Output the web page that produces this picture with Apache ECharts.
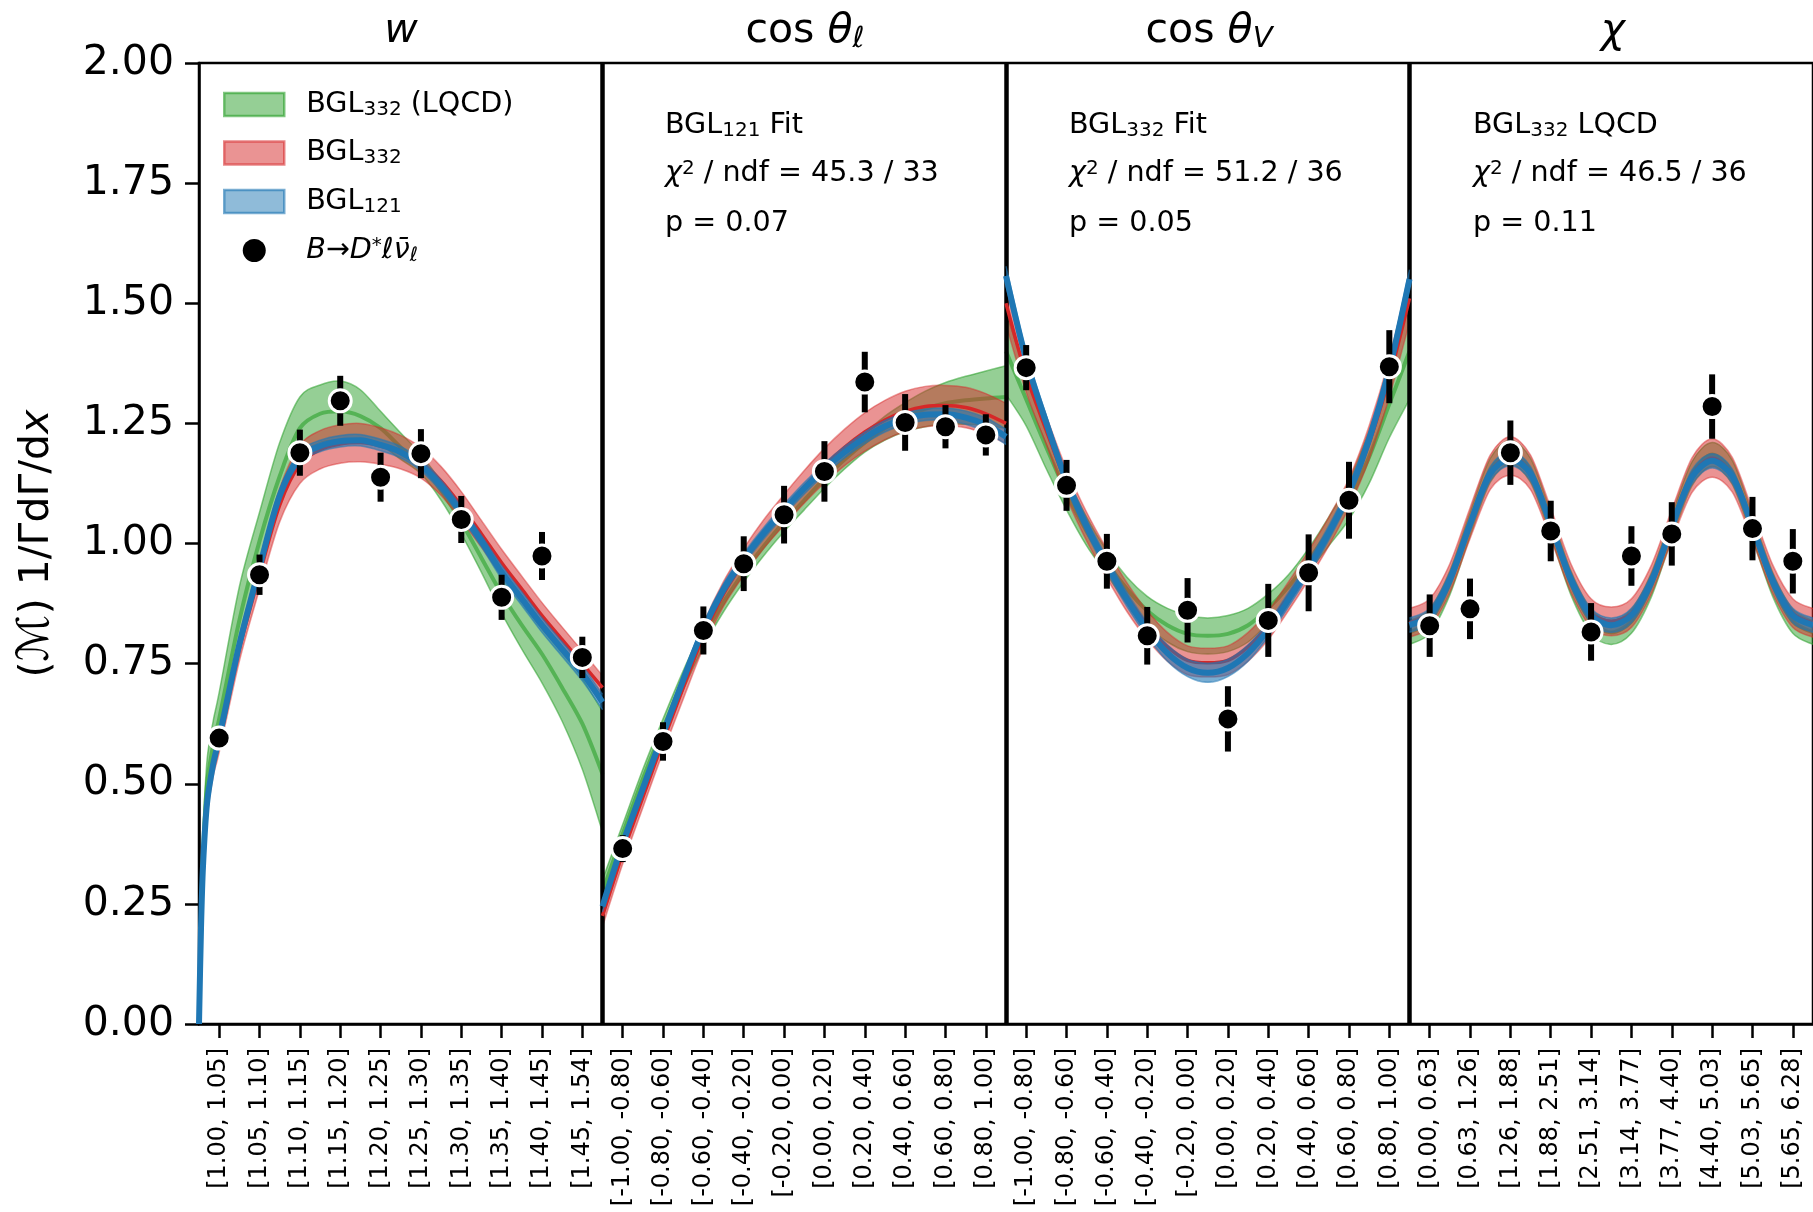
<!DOCTYPE html>
<html>
<head>
<meta charset="utf-8">
<script src="https://cdn.jsdelivr.net/npm/echarts@6/dist/echarts.min.js"></script>
<style>
html,body{margin:0;padding:0;background:#fff;}
#main{width:1813px;height:1212px;}
</style>
</head>
<body>
<div id="main"></div>
<script>
// ---------------- tick labels (bins) ----------------
const wBins   = ['[1.00, 1.05]','[1.05, 1.10]','[1.10, 1.15]','[1.15, 1.20]','[1.20, 1.25]','[1.25, 1.30]','[1.30, 1.35]','[1.35, 1.40]','[1.40, 1.45]','[1.45, 1.54]'];
const clBins  = ['[-1.00, -0.80]','[-0.80, -0.60]','[-0.60, -0.40]','[-0.40, -0.20]','[-0.20, 0.00]','[0.00, 0.20]','[0.20, 0.40]','[0.40, 0.60]','[0.60, 0.80]','[0.80, 1.00]'];
const cvBins  = ['[-1.00, -0.80]','[-0.80, -0.60]','[-0.60, -0.40]','[-0.40, -0.20]','[-0.20, 0.00]','[0.00, 0.20]','[0.20, 0.40]','[0.40, 0.60]','[0.60, 0.80]','[0.80, 1.00]'];
const chiBins = ['[0.00, 0.63]','[0.63, 1.26]','[1.26, 1.88]','[1.88, 2.51]','[2.51, 3.14]','[3.14, 3.77]','[3.77, 4.40]','[4.40, 5.03]','[5.03, 5.65]','[5.65, 6.28]'];

// ---------------- measured data points ----------------
const wData   = [0.595, 0.935, 1.189, 1.297, 1.138, 1.187, 1.050, 0.888, 0.974, 0.763];
const wErr    = [0.020, 0.042, 0.048, 0.052, 0.051, 0.051, 0.049, 0.047, 0.050, 0.043];
const clData  = [0.365, 0.588, 0.819, 0.958, 1.060, 1.150, 1.336, 1.252, 1.243, 1.226];
const clErr   = [0.028, 0.040, 0.050, 0.057, 0.060, 0.063, 0.063, 0.059, 0.045, 0.043];
const cvData  = [1.366, 1.121, 0.963, 0.808, 0.861, 0.635, 0.840, 0.939, 1.090, 1.368];
const cvErr   = [0.047, 0.053, 0.057, 0.060, 0.067, 0.068, 0.076, 0.080, 0.080, 0.076];
const chiData = [0.829, 0.864, 1.189, 1.026, 0.816, 0.974, 1.020, 1.285, 1.031, 0.963];
const chiErr  = [0.065, 0.063, 0.067, 0.063, 0.060, 0.062, 0.066, 0.067, 0.066, 0.067];

// ---------------- fit curves (positions in bin units within a panel) ----------------
const xW   = [-0.5,-0.45,-0.4,-0.3,-0.15,0,0.5,1,1.5,2,2.5,3,3.5,4,4.5,5,5.5,6,6.5,7,7.5,8,8.5,9,9.5];
const xStd = [-0.5,0,0.5,1,1.5,2,2.5,3,3.5,4,4.5,5,5.5,6,6.5,7,7.5,8,8.5,9,9.5];

const wBlue     = [0,0.20,0.33,0.46,0.54,0.595,0.79,0.95,1.10,1.18,1.203,1.213,1.215,1.205,1.19,1.163,1.12,1.065,1.005,0.94,0.885,0.83,0.78,0.73,0.67];
const wBlueErr  = [0,0.008,0.01,0.012,0.012,0.012,0.012,0.012,0.012,0.012,0.012,0.012,0.012,0.012,0.012,0.012,0.012,0.012,0.012,0.014,0.014,0.015,0.015,0.016,0.016];
const wRed      = [0,0.19,0.31,0.45,0.535,0.585,0.78,0.935,1.08,1.165,1.195,1.207,1.21,1.203,1.19,1.168,1.13,1.078,1.02,0.96,0.905,0.85,0.80,0.75,0.70];
const wRedErr   = [0,0.01,0.015,0.02,0.02,0.02,0.025,0.03,0.035,0.04,0.04,0.04,0.04,0.038,0.035,0.032,0.03,0.03,0.028,0.028,0.027,0.027,0.026,0.026,0.025];
const wGreen    = [0,0.22,0.36,0.50,0.58,0.635,0.84,1.005,1.14,1.24,1.27,1.275,1.265,1.24,1.20,1.165,1.11,1.045,0.97,0.895,0.83,0.77,0.70,0.625,0.52];
const wGreenLo  = [0,0.19,0.32,0.46,0.54,0.59,0.78,0.945,1.08,1.18,1.21,1.215,1.215,1.205,1.175,1.145,1.09,1.02,0.94,0.855,0.78,0.71,0.63,0.53,0.40];
const wGreenHi  = [0,0.26,0.40,0.55,0.63,0.69,0.91,1.065,1.21,1.305,1.33,1.338,1.32,1.275,1.23,1.185,1.13,1.07,1.00,0.94,0.885,0.835,0.78,0.72,0.65];

const clBlue    = [0.245,0.375,0.49,0.604,0.716,0.822,0.905,0.968,1.022,1.07,1.115,1.155,1.19,1.22,1.244,1.26,1.268,1.269,1.262,1.247,1.222];
const clBlueErr = [0.012,0.012,0.012,0.012,0.012,0.012,0.012,0.012,0.012,0.012,0.012,0.012,0.012,0.012,0.012,0.012,0.012,0.013,0.014,0.015,0.016];
const clRed     = [0.225,0.355,0.472,0.588,0.70,0.808,0.895,0.962,1.02,1.07,1.118,1.162,1.2,1.232,1.257,1.275,1.285,1.287,1.283,1.27,1.25];
const clRedErr  = [0.022,0.022,0.022,0.022,0.024,0.025,0.026,0.028,0.03,0.032,0.034,0.036,0.038,0.04,0.041,0.042,0.042,0.042,0.042,0.042,0.042];
const clGreen   = [0.275,0.395,0.51,0.615,0.715,0.805,0.878,0.94,0.995,1.045,1.09,1.135,1.175,1.21,1.24,1.263,1.28,1.292,1.298,1.302,1.305];
const clGreenLo = [0.25,0.375,0.49,0.595,0.695,0.785,0.858,0.92,0.975,1.025,1.07,1.115,1.155,1.19,1.215,1.233,1.243,1.249,1.248,1.245,1.24];
const clGreenHi = [0.30,0.415,0.53,0.635,0.735,0.825,0.898,0.96,1.015,1.065,1.11,1.155,1.195,1.23,1.265,1.293,1.317,1.335,1.348,1.359,1.37];

const cvBlue    = [1.557,1.383,1.251,1.13,1.036,0.956,0.883,0.821,0.772,0.741,0.731,0.741,0.772,0.821,0.883,0.949,1.022,1.106,1.217,1.3625,1.55];
const cvBlueErr = [0.02,0.015,0.015,0.015,0.015,0.015,0.015,0.015,0.017,0.018,0.02,0.018,0.017,0.015,0.015,0.015,0.015,0.015,0.015,0.015,0.02];
const cvRed     = [1.50,1.35,1.235,1.125,1.035,0.958,0.888,0.83,0.785,0.757,0.752,0.757,0.785,0.83,0.89,0.955,1.025,1.105,1.21,1.345,1.51];
const cvRedErr  = [0.045,0.035,0.03,0.03,0.03,0.03,0.03,0.03,0.03,0.03,0.03,0.03,0.03,0.03,0.03,0.03,0.03,0.03,0.035,0.04,0.05];
const cvGreen   = [1.40,1.30,1.20,1.105,1.025,0.96,0.905,0.86,0.83,0.812,0.808,0.812,0.83,0.865,0.91,0.965,1.025,1.09,1.18,1.29,1.40];
const cvGreenLo = [1.31,1.245,1.155,1.07,0.995,0.935,0.875,0.83,0.795,0.775,0.77,0.775,0.795,0.835,0.885,0.94,0.995,1.05,1.125,1.22,1.30];
const cvGreenHi = [1.48,1.355,1.245,1.14,1.055,0.985,0.93,0.89,0.865,0.85,0.845,0.85,0.865,0.895,0.935,0.99,1.055,1.13,1.235,1.36,1.50];

const chiBlue    = [0.830,0.850,0.925,1.04,1.145,1.177,1.145,1.04,0.925,0.85,0.83,0.85,0.922,1.035,1.138,1.172,1.14,1.035,0.922,0.85,0.83];
const chiBlueErr = [0.015,0.015,0.015,0.015,0.015,0.015,0.015,0.015,0.015,0.015,0.015,0.015,0.015,0.015,0.015,0.015,0.015,0.015,0.015,0.015,0.015];
const chiRed     = [0.835,0.855,0.928,1.042,1.148,1.182,1.148,1.042,0.928,0.855,0.838,0.855,0.926,1.038,1.142,1.178,1.143,1.038,0.926,0.855,0.835];
const chiRedErr  = [0.03,0.03,0.03,0.032,0.036,0.04,0.036,0.032,0.03,0.03,0.03,0.03,0.03,0.032,0.036,0.04,0.036,0.032,0.03,0.03,0.03];
const chiGreen   = [0.815,0.838,0.918,1.04,1.152,1.19,1.152,1.04,0.918,0.838,0.815,0.838,0.915,1.035,1.145,1.185,1.148,1.035,0.915,0.838,0.815];
const chiGreenLo = [0.79,0.813,0.893,1.015,1.127,1.165,1.127,1.015,0.893,0.813,0.79,0.813,0.89,1.01,1.12,1.16,1.123,1.01,0.89,0.813,0.79];
const chiGreenHi = [0.84,0.863,0.943,1.065,1.177,1.215,1.177,1.065,0.943,0.863,0.84,0.863,0.94,1.06,1.17,1.21,1.173,1.06,0.94,0.863,0.84];

// ---------------- texts ----------------
const panelTitles = ['{i|w}', '{n|cos }{i|θ}{s|ℓ}', '{n|cos }{i|θ}{s|V}', '{i|χ}'];
const fitModel  = ['121', '332', '332'];
const fitSuffix = [' Fit', ' Fit', ' LQCD'];
const fitChi2   = ['45.3', '51.2', '46.5'];
const fitNdf    = ['33', '36', '36'];
const fitP      = ['0.07', '0.05', '0.11'];
const yTitle = '{n|(}{m|ℳ}{n|) 1/ΓdΓ/d}{i|x}';
const dividers = [9.5, 19.5, 29.5];

// ---------------- styling ----------------
const FONT = 'DejaVu Sans';
const GREEN_FILL = 'rgba(44,160,44,0.5)', GREEN_EDGE = 'rgba(44,160,44,0.55)', GREEN_LINE = 'rgba(44,160,44,0.6)';
const RED_FILL = 'rgba(214,39,40,0.5)', RED_EDGE = 'rgba(214,39,40,0.45)', RED_LINE = '#d62728';
const BLUE_FILL = 'rgba(31,119,180,0.6)', BLUE_EDGE = 'rgba(31,119,180,0.55)', BLUE_LINE = '#1f77b4';
const SM = 0.3;      // ECharts line smoothing
const TENSION = 0.15; // matching bezier tension for the band outlines

const panels = [
  {off: 0,  x: xW,   b: wBlue,   be: wBlueErr,   r: wRed,   re: wRedErr,   g: wGreen,   gl: wGreenLo,   gh: wGreenHi,   d: wData,   de: wErr},
  {off: 10, x: xStd, b: clBlue,  be: clBlueErr,  r: clRed,  re: clRedErr,  g: clGreen,  gl: clGreenLo,  gh: clGreenHi,  d: clData,  de: clErr},
  {off: 20, x: xStd, b: cvBlue,  be: cvBlueErr,  r: cvRed,  re: cvRedErr,  g: cvGreen,  gl: cvGreenLo,  gh: cvGreenHi,  d: cvData,  de: cvErr},
  {off: 30, x: xStd, b: chiBlue, be: chiBlueErr, r: chiRed, re: chiRedErr, g: chiGreen, gl: chiGreenLo, gh: chiGreenHi, d: chiData, de: chiErr}
];

// smooth bezier segments through pixel points (rendering only)
function bezierSegs(pts) {
  let d = '';
  for (let i = 0; i < pts.length - 1; i++) {
    const p0 = pts[Math.max(i - 1, 0)], p1 = pts[i], p2 = pts[i + 1], p3 = pts[Math.min(i + 2, pts.length - 1)];
    const c1x = p1[0] + (p2[0] - p0[0]) * TENSION, c1y = p1[1] + (p2[1] - p0[1]) * TENSION;
    const c2x = p2[0] - (p3[0] - p1[0]) * TENSION, c2y = p2[1] - (p3[1] - p1[1]) * TENSION;
    d += ' C' + c1x.toFixed(2) + ',' + c1y.toFixed(2) + ' ' + c2x.toFixed(2) + ',' + c2y.toFixed(2) + ' ' + p2[0].toFixed(2) + ',' + p2[1].toFixed(2);
  }
  return d;
}

function bandSeries(xs, off, lo, hi, fill, edge, z) {
  const rows = xs.map((t, i) => [t + off, lo[i], hi[i]]);
  return {
    type: 'custom', xAxisIndex: 1, yAxisIndex: 0, z: z, silent: true,
    encode: {x: 0, y: [1, 2]},
    data: rows,
    renderItem: function (params, api) {
      if (params.dataIndex !== 0) return null;
      const up = rows.map(r => api.coord([r[0], r[2]]));
      const dn = rows.map(r => api.coord([r[0], r[1]]));
      const dnRev = dn.slice().reverse();
      const upPath = 'M' + up[0][0] + ',' + up[0][1] + bezierSegs(up);
      const dnPath = 'M' + dn[0][0] + ',' + dn[0][1] + bezierSegs(dn);
      const area = upPath + ' L' + dnRev[0][0] + ',' + dnRev[0][1] + bezierSegs(dnRev) + ' Z';
      return {type: 'group', children: [
        {type: 'path', shape: {pathData: area}, style: {fill: fill, stroke: null}},
        {type: 'path', shape: {pathData: upPath}, style: {fill: null, stroke: edge, lineWidth: 1.5}},
        {type: 'path', shape: {pathData: dnPath}, style: {fill: null, stroke: edge, lineWidth: 1.5}}
      ]};
    }
  };
}
function lineSeries(xs, off, c, color, width, z) {
  return {type: 'line', xAxisIndex: 1, yAxisIndex: 0, data: xs.map((t, i) => [t + off, c[i]]),
    symbol: 'none', smooth: SM, silent: true, z: z, lineStyle: {color: color, width: width}};
}

const series = [];
panels.forEach(p => {
  series.push(bandSeries(p.x, p.off, p.gl, p.gh, GREEN_FILL, GREEN_EDGE, 2));
  series.push(lineSeries(p.x, p.off, p.g, GREEN_LINE, 4, 3));
  series.push(bandSeries(p.x, p.off, p.r.map((v, i) => v - p.re[i]), p.r.map((v, i) => v + p.re[i]), RED_FILL, RED_EDGE, 4));
  series.push(lineSeries(p.x, p.off, p.r, RED_LINE, 3.5, 5));
  series.push(bandSeries(p.x, p.off, p.b.map((v, i) => v - p.be[i]), p.b.map((v, i) => v + p.be[i]), BLUE_FILL, BLUE_EDGE, 6));
  series.push(lineSeries(p.x, p.off, p.b, BLUE_LINE, 6, 7));
});

const points = [], errs = [];
panels.forEach(p => {
  p.d.forEach((v, i) => {
    points.push([p.off + i, v]);
    errs.push([p.off + i, v, p.de[i]]);
  });
});

series.push({
  type: 'custom', xAxisIndex: 1, yAxisIndex: 0, z: 9, silent: true,
  encode: {x: 0, y: 1},
  data: errs,
  renderItem: function (params, api) {
    const x = api.value(0), y = api.value(1), e = api.value(2);
    const p1 = api.coord([x, y - e]), p2 = api.coord([x, y + e]);
    return {type: 'line', shape: {x1: p1[0], y1: p1[1], x2: p2[0], y2: p2[1]},
      style: {stroke: '#000', lineWidth: 6, lineCap: 'butt'}};
  }
});
series.push({
  name: 'data', type: 'scatter', xAxisIndex: 1, yAxisIndex: 0, z: 10, silent: true,
  data: points, symbol: 'circle', symbolSize: 22,
  itemStyle: {color: '#000', borderColor: '#fff', borderWidth: 3, opacity: 1},
  markLine: {
    silent: true, symbol: ['none', 'none'], label: {show: false},
    lineStyle: {color: '#000', width: 4.5, type: 'solid', opacity: 1},
    emphasis: {disabled: true},
    data: dividers.map(v => ({xAxis: v}))
  }
});
// legend-only entries for the fit bands
['BGL332 (LQCD)', 'BGL332', 'BGL121'].forEach(n => {
  series.push({name: n, type: 'custom', xAxisIndex: 1, yAxisIndex: 0, data: [], renderItem: () => null});
});

const allBins = wBins.concat(clBins, cvBins, chiBins);
const legendText = {
  'BGL332 (LQCD)': '{f|BGL}{s|332}{n| (LQCD)}',
  'BGL332': '{f|BGL}{s|332}',
  'BGL121': '{f|BGL}{s|121}',
  'data': '{fi|B}{n|→}{i|D}{sup|*}{i|ℓν̄}{si|ℓ}'
};

const BASE = 28.6, SUB = 20;
const richBase = {
  n:   {fontSize: BASE, fontFamily: FONT, color: '#000', lineHeight: 30},
  f:   {fontSize: BASE, fontFamily: FONT, color: '#000', lineHeight: 30, padding: [0, 0, 0, 17]},
  fi:  {fontSize: BASE, fontFamily: FONT, color: '#000', lineHeight: 30, fontStyle: 'italic', padding: [0, 0, 0, 17]},
  i:   {fontSize: BASE, fontFamily: FONT, color: '#000', lineHeight: 30, fontStyle: 'italic'},
  s:   {fontSize: SUB, fontFamily: FONT, color: '#000', lineHeight: 18, verticalAlign: 'bottom'},
  si:  {fontSize: SUB, fontFamily: FONT, color: '#000', lineHeight: 18, verticalAlign: 'bottom', fontStyle: 'italic'},
  sup: {fontSize: SUB, fontFamily: FONT, color: '#000', lineHeight: 18, verticalAlign: 'top'}
};
const richTitle = {
  n: {fontSize: 41, fontFamily: FONT, color: '#000', lineHeight: 46},
  i: {fontSize: 41, fontFamily: FONT, color: '#000', lineHeight: 46, fontStyle: 'italic'},
  s: {fontSize: 29, fontFamily: FONT, color: '#000', lineHeight: 26, verticalAlign: 'bottom', fontStyle: 'italic'}
};

const graphic = [];
const titleX = [401, 805, 1209, 1613];
panelTitles.forEach((t, k) => {
  graphic.push({type: 'text', x: titleX[k], y: 31, silent: true,
    style: {text: t, rich: richTitle, align: 'center', verticalAlign: 'middle', fill: '#000'}});
});
const annoX = [665, 1069, 1473];
const annoY = [126, 174, 224];
fitModel.forEach((m, k) => {
  const lines = [
    '{n|BGL}{s|' + m + '}{n|' + fitSuffix[k] + '}',
    '{i|χ}{sup|2}{n| / ndf = ' + fitChi2[k] + ' / ' + fitNdf[k] + '}',
    '{n|p = ' + fitP[k] + '}'
  ];
  lines.forEach((txt, j) => {
    graphic.push({type: 'text', x: annoX[k], y: annoY[j], silent: true,
      style: {text: txt, rich: richBase, align: 'left', verticalAlign: 'middle', fill: '#000'}});
  });
});

const option = {
  animation: false,
  backgroundColor: '#fff',
  textStyle: {fontFamily: FONT},
  grid: {left: 199, top: 63, width: 1616, height: 961, show: true, borderColor: '#000', borderWidth: 2.5,
    backgroundColor: 'rgba(0,0,0,0)', containLabel: false},
  legend: {
    orient: 'vertical', left: 223, top: 90, padding: 0, itemWidth: 60, itemHeight: 23, itemGap: 19,
    selectedMode: false,
    data: [
      {name: 'BGL332 (LQCD)', icon: 'rect', itemStyle: {color: GREEN_FILL, borderColor: 'rgba(44,160,44,0.6)', borderWidth: 2.5}},
      {name: 'BGL332', icon: 'rect', itemStyle: {color: RED_FILL, borderColor: 'rgba(214,39,40,0.55)', borderWidth: 2.5}},
      {name: 'BGL121', icon: 'rect', itemStyle: {color: 'rgba(31,119,180,0.5)', borderColor: 'rgba(31,119,180,0.6)', borderWidth: 2.5}},
      {name: 'data', icon: 'circle', itemStyle: {color: '#000', borderWidth: 0}}
    ],
    formatter: name => legendText[name],
    textStyle: {fontSize: BASE, fontFamily: FONT, color: '#000', rich: richBase}
  },
  xAxis: [
    {type: 'category', data: allBins, boundaryGap: true, position: 'bottom',
      axisLine: {show: true, onZero: false, lineStyle: {color: '#000', width: 2.5}},
      axisTick: {show: true, alignWithLabel: true, interval: 0, length: 14, lineStyle: {color: '#000', width: 2.5}},
      axisLabel: {interval: 0, rotate: 90, fontSize: 24, fontFamily: FONT, color: '#000', margin: 24},
      splitLine: {show: false}},
    {type: 'value', min: -0.5, max: 39.5, show: false, splitLine: {show: false}}
  ],
  yAxis: {
    type: 'value', min: 0, max: 2, interval: 0.25, position: 'left',
    axisLine: {show: true, onZero: false, lineStyle: {color: '#000', width: 2.5}},
    axisTick: {show: true, length: 14, lineStyle: {color: '#000', width: 2.5}},
    axisLabel: {formatter: v => v.toFixed(2), fontSize: 41, fontFamily: FONT, color: '#000', margin: 25},
    splitLine: {show: false},
    name: yTitle, nameLocation: 'middle', nameGap: 140, nameRotate: 90,
    nameTextStyle: {fontSize: 41, fontFamily: FONT, color: '#000', rich: {
      n: {fontSize: 41, fontFamily: FONT, color: '#000'},
      m: {fontSize: 44, fontFamily: FONT, color: '#000'},
      i: {fontSize: 41, fontFamily: FONT, color: '#000', fontStyle: 'italic'}
    }}
  },
  graphic: graphic,
  series: series
};

const chart = echarts.init(document.getElementById('main'), null, {renderer: 'canvas', width: 1813, height: 1212});
chart.setOption(option);
</script>
</body>
</html>
